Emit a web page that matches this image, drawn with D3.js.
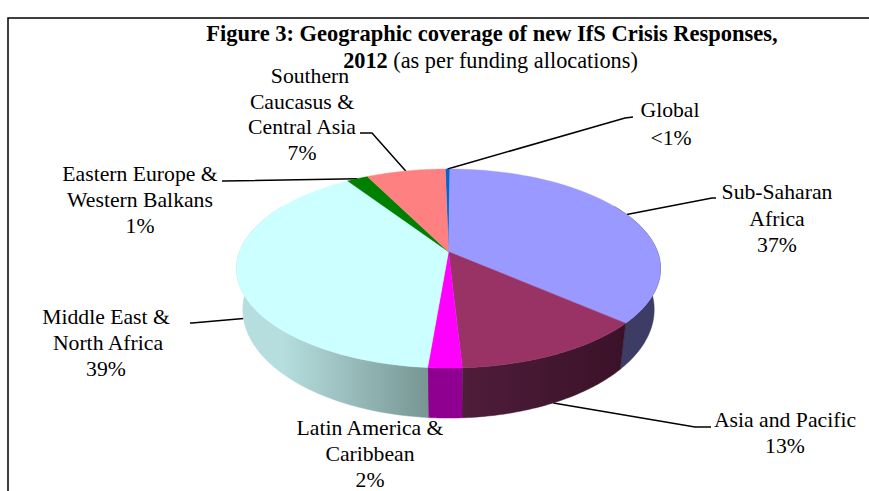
<!DOCTYPE html>
<html><head><meta charset="utf-8">
<script src="https://cdn.jsdelivr.net/npm/d3@7"></script>
<style>html,body{margin:0;padding:0;background:#fff}svg{display:block}text{font-family:"Liberation Serif",serif;fill:#000}</style>
</head><body><svg id="c" width="869" height="491"></svg>
<script>
// Data, clockwise from the top of the pie
const categories = ["Global","Sub-Saharan Africa","Asia and Pacific","Latin America & Caribbean","Middle East & North Africa","Eastern Europe & Western Balkans","Southern Caucasus & Central Asia"];
const values = [0.4,36.3,12.7,2.2,39.4,1.9,7.1];
const percentLabels = ["<1%","37%","13%","2%","39%","1%","7%"];
const topColors = ["#0066cc","#9999ff","#993366","#ff00ff","#ccffff","#008000","#ff8080"];
const wallFrom = ["#004d99","#42426e","#4f1c3a","#900090","#b6dede","#006000","#c06060"];
const wallTo = ["#004d99","#3c3c64","#3a1228","#900090","#779694","#006000","#c06060"];
const labelLines = [["Global"],["Sub-Saharan","Africa"],["Asia and Pacific"],["Latin America &","Caribbean"],["Middle East &","North Africa"],["Eastern Europe &","Western Balkans"],["Southern","Caucasus &","Central Asia"]];
const labelX = [[670,671],[777,777,777],[785,785],[370,370,370],[106,108,106],[140,140,140],[310,302,302,302]];
const labelY = [117,199,427,435,324,181,83];
const lineHeight = [28,26.5,26,26,26,26,25.7];
const leaderElbows = [[[633,117],[625,118]],[[716,198],[712,198]],[[711,427],[695,427]],null,[[190,323],[192,323]],[[222,181],[224,181]],[[360,133],[372,133]]];
const leaderOnWall = [false,false,true,false,true,false,false];

const svg = d3.select("#c");
const cx=448.5, cy=251.7, a=209, b=96.7, k=0.169, depth=50, wallSlope=0.09, wallShrink=0.97;
const top3 = ang => { const u=Math.sin(ang), v=-Math.cos(ang), w=1-k*v; return [cx+a*u/w, cy+b*v/w]; };
const low3 = ang => { const p=top3(ang); return [cx+(p[0]-cx)*wallShrink, p[1]+depth-wallSlope*(cy+b/(1-k)-p[1])]; };
const line = d3.line();
const span = (s,e) => d3.range(0,61).map(i=>s+(e-s)*i/60);

const pie = d3.pie().sort(null).value(d=>d).startAngle(-1*Math.PI/180).endAngle(2*Math.PI-Math.PI/180);
const arcs = pie(values);

// frame
svg.append("path").attr("d",line([[8,491],[8,18],[869,18]])).attr("fill","none").attr("stroke","#000").attr("stroke-width",1.5);

// gradients
const defs = svg.append("defs");
arcs.forEach((d,i)=>{
  const g=defs.append("linearGradient").attr("id","w"+i).attr("gradientUnits","userSpaceOnUse");
  const lo=Math.max(d.startAngle,Math.PI*0.33), hi=Math.min(d.endAngle,Math.PI*1.67);
  g.attr("x1",top3(lo)[0]).attr("x2",top3(hi)[0]).attr("y1",0).attr("y2",0);
  const left = top3(lo)[0] < top3(hi)[0];
  g.append("stop").attr("offset",0).attr("stop-color",left?wallFrom[i]:wallTo[i]);
  g.append("stop").attr("offset",1).attr("stop-color",left?wallTo[i]:wallFrom[i]);
});

// leaders that pass behind the pie are drawn first
const anchors = arcs.map((d,i)=>{ const m=(d.startAngle+d.endAngle)/2; return leaderOnWall[i]?low3(m):top3(m); });
arcs.forEach((d,i)=>{
  if(!leaderElbows[i]) return;
  svg.append("path").attr("d",line(leaderElbows[i].concat([anchors[i]]))).attr("fill","none").attr("stroke","#000").attr("stroke-width",1.5);
});

// walls
arcs.forEach((d,i)=>{
  const lo=Math.max(d.startAngle,Math.PI*0.33), hi=Math.min(d.endAngle,Math.PI*1.67);
  if(hi<=lo) return;
  const s=span(lo,hi);
  svg.append("path").attr("d",line(s.map(top3).concat(s.slice().reverse().map(low3)))+"Z")
    .attr("fill",`url(#w${i})`).attr("stroke",`url(#w${i})`).attr("stroke-width",0.5);
});
// top faces
arcs.forEach((d,i)=>{
  const s=span(d.startAngle,d.endAngle);
  svg.append("path").attr("d",line([[cx,cy]].concat(s.map(top3)))+"Z")
    .attr("fill",topColors[i]).attr("stroke",topColors[i]).attr("stroke-width",0.4);
});

// labels
const fs=21.7;
arcs.forEach((d,i)=>{
  const lines=labelLines[i].concat([percentLabels[i]]);
  lines.forEach((t,j)=>{
    svg.append("text").attr("x",labelX[i][j]).attr("y",labelY[i]+j*lineHeight[i]).attr("text-anchor","middle").attr("font-size",fs).text(t);
  });
});

// title
svg.append("text").attr("x",492).attr("y",41).attr("text-anchor","middle").attr("font-size",22.5).attr("font-weight","bold")
  .text("Figure 3: Geographic coverage of new IfS Crisis Responses,");
const t2=svg.append("text").attr("x",490.5).attr("y",68).attr("text-anchor","middle").attr("font-size",22.3);
t2.append("tspan").attr("font-weight","bold").text("2012");
t2.append("tspan").text(" (as per funding  allocations)");
</script></body></html>
